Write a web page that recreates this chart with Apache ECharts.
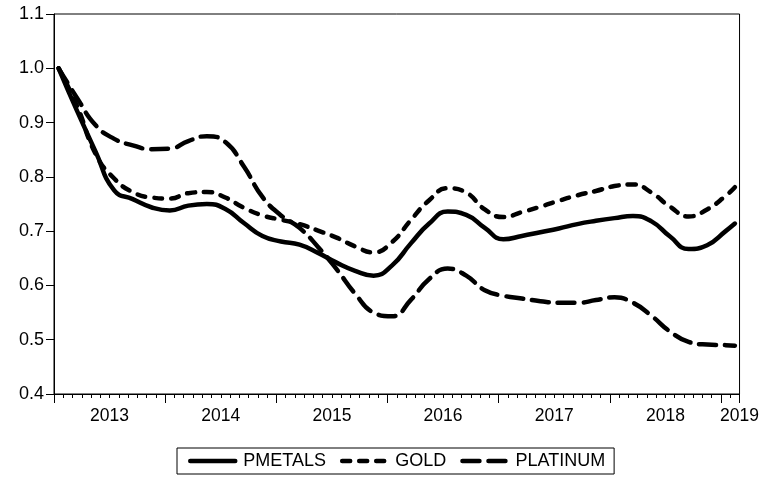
<!DOCTYPE html>
<html>
<head>
<meta charset="utf-8">
<script src="https://cdn.jsdelivr.net/npm/echarts@6/dist/echarts.min.js"></script>
<style>
  html, body { margin: 0; padding: 0; background: #fff; }
  #chart { width: 762px; height: 479px; }
</style>
</head>
<body>
<div id="chart"></div>
<script>
// Observation months (every second month, plus the final one)
const obsMonths = [
  '2013-01','2013-03','2013-05','2013-07','2013-09','2013-11',
  '2014-01','2014-03','2014-05','2014-07','2014-09','2014-11',
  '2015-01','2015-03','2015-05','2015-07','2015-09','2015-11',
  '2016-01','2016-03','2016-05','2016-07','2016-09','2016-11',
  '2017-01','2017-03','2017-05','2017-07','2017-09','2017-11',
  '2018-01','2018-03','2018-05','2018-07','2018-09','2018-11',
  '2019-01','2019-02'
];
const pmetals = [
  1.000, 0.921, 0.846, 0.775, 0.759, 0.744,
  0.738, 0.747, 0.750, 0.741, 0.715, 0.691,
  0.681, 0.675, 0.660, 0.642, 0.627, 0.618,
  0.637, 0.677, 0.714, 0.736, 0.730, 0.706,
  0.685, 0.691, 0.698, 0.705, 0.713, 0.719,
  0.724, 0.728, 0.718, 0.690, 0.667, 0.674,
  0.700, 0.714
];
const gold = [
  1.000, 0.930, 0.842, 0.797, 0.772, 0.762,
  0.760, 0.770, 0.772, 0.762, 0.743, 0.729,
  0.721, 0.713, 0.701, 0.688, 0.672, 0.661,
  0.680, 0.720, 0.757, 0.779, 0.771, 0.740,
  0.726, 0.735, 0.745, 0.756, 0.766, 0.774,
  0.783, 0.786, 0.771, 0.745, 0.727, 0.740,
  0.765, 0.781
];
const platinum = [
  1.000, 0.945, 0.895, 0.870, 0.858, 0.851,
  0.852, 0.866, 0.875, 0.864, 0.819, 0.763,
  0.729, 0.706, 0.671, 0.630, 0.585, 0.550,
  0.543, 0.573, 0.612, 0.631, 0.618, 0.591,
  0.581, 0.576, 0.571, 0.568, 0.568, 0.573,
  0.578, 0.568, 0.544, 0.515, 0.496, 0.491,
  0.490, 0.489
];
const yearLabels = ['2013','2014','2015','2016','2017','2018','2019'];
const seriesNames = ['PMETALS', 'GOLD', 'PLATINUM'];

const firstYear = Number(yearLabels[0]);
const lastObs = obsMonths[obsMonths.length - 1];
const totalMonths = (Number(lastObs.slice(0, 4)) - firstYear) * 12 + Number(lastObs.slice(5, 7));

// Each observation sits at the middle of its monthly slot
function monthPos(s) {
  return (Number(s.slice(0, 4)) - firstYear) * 12 + Number(s.slice(5, 7)) - 1 + 0.5;
}
function pairs(values) {
  return obsMonths.map((m, i) => [monthPos(m), values[i]]);
}

// Year labels: centred on each full year, the last one at the axis end
const labelAt = {};
yearLabels.forEach((y, i) => {
  const centre = i * 12 + 6;
  labelAt[centre <= totalMonths - 6 ? centre : totalMonths] = y;
});

const font = '"Liberation Sans", Arial, sans-serif';
const chart = echarts.init(document.getElementById('chart'), null, { renderer: 'canvas' });

const lineWidth = 4.5;
const dashTypes = ['solid', [8, 9], [17, 9]];
const styleFor = i => ({ color: '#000', width: lineWidth, cap: 'round', join: 'round', type: dashTypes[i] });

chart.setOption({
  animation: false,
  backgroundColor: '#fff',
  grid: {
    left: 54, right: 22, top: 14, bottom: 85,
    show: true, borderColor: '#000', borderWidth: 1, backgroundColor: 'transparent'
  },
  legend: {
    data: seriesNames.map((n, i) => ({
      name: n,
      itemStyle: { color: 'transparent', opacity: 0, borderWidth: 0 },
      lineStyle: styleFor(i)
    })),
    left: 177, top: 448,
    padding: [4, 9, 4, 11],
    itemWidth: 45, itemHeight: 14, itemGap: 14,
    borderColor: '#000', borderWidth: 1,
    textStyle: { fontFamily: font, fontSize: 18, color: '#000', padding: [1, 0, 0, 3] }
  },
  xAxis: [
    {
      type: 'value', min: 0, max: totalMonths, interval: 1,
      position: 'bottom',
      axisLine: { show: true, lineStyle: { color: '#000', width: 1 } },
      axisTick: { show: true, length: 4, lineStyle: { color: '#000', width: 1 } },
      splitLine: { show: false },
      axisLabel: {
        show: true, margin: 13, showMaxLabel: true, showMinLabel: true,
        fontFamily: font, fontSize: 17.5, color: '#000',
        formatter: v => labelAt[v] || ''
      }
    },
    {
      type: 'value', min: 0, max: totalMonths, interval: 12,
      position: 'bottom', offset: 0,
      axisLine: { show: false },
      axisTick: { show: true, length: 9, lineStyle: { color: '#000', width: 1 } },
      splitLine: { show: false },
      axisLabel: { show: false }
    }
  ],
  yAxis: {
    type: 'value', min: 0.4, max: 1.1, interval: 0.1,
    axisLine: { show: true, lineStyle: { color: '#000', width: 1 } },
    axisTick: { show: true, length: 8, lineStyle: { color: '#000', width: 1 } },
    splitLine: { show: false },
    axisLabel: {
      margin: 10, fontFamily: font, fontSize: 18, color: '#000',
      formatter: v => v.toFixed(1)
    }
  },
  series: seriesNames.map((n, i) => ({
    name: n, type: 'line', data: pairs([pmetals, gold, platinum][i]),
    showSymbol: false, symbol: 'none', smooth: 0.5,
    itemStyle: { color: '#000' },
    lineStyle: styleFor(i)
  }))
});
</script>
</body>
</html>
